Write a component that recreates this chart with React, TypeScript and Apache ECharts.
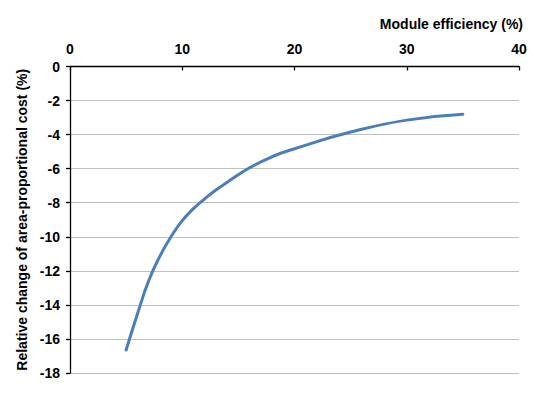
import React, { useEffect, useRef } from "react";
import * as echarts from "echarts";

const efficiency = [5, 6, 7, 8, 9, 10, 11, 12, 13, 14, 16, 18, 20, 25, 30, 35];
const costChange = [-16.65, -14.55, -12.6, -11.15, -10.0, -9.05, -8.35, -7.77, -7.25, -6.8, -5.95, -5.3, -4.83, -3.85, -3.15, -2.8];
const xTitle = "Module efficiency (%)";
const yTitle = "Relative change of area-proportional cost (%)";

export default function App() {
  const ref = useRef<HTMLDivElement>(null);
  useEffect(() => {
    if (!ref.current) return;
    const chart = echarts.init(ref.current, null, { renderer: "svg" });
    const font = "'Liberation Sans', Arial, sans-serif";
    chart.setOption({
      animation: false,
      backgroundColor: "#ffffff",
      grid: { left: 70, right: 31, top: 66.5, bottom: 20, containLabel: false },
      xAxis: {
        type: "value",
        position: "top",
        min: 0,
        max: 40,
        interval: 10,
        name: xTitle,
        nameLocation: "end",
        nameGap: 4,
        nameTextStyle: {
          align: "right",
          verticalAlign: "bottom",
          padding: [0, 0, 36, 0],
          fontFamily: font,
          fontWeight: "bold",
          fontSize: 14,
          color: "#000",
        },
        axisLine: { show: true, onZero: false, lineStyle: { color: "#000", width: 1.3 } },
        axisTick: { show: true, inside: true, length: 4, lineStyle: { color: "#000", width: 1.3 } },
        axisLabel: { margin: 11, fontFamily: font, fontWeight: "bold", fontSize: 14, color: "#000" },
        splitLine: { show: false },
      },
      yAxis: {
        type: "value",
        min: -18,
        max: 0,
        interval: 2,
        name: yTitle,
        nameLocation: "middle",
        nameRotate: 90,
        nameGap: 38,
        nameTextStyle: { fontFamily: font, fontWeight: "bold", fontSize: 14, color: "#000" },
        axisLine: { show: true, lineStyle: { color: "#000", width: 1.3 } },
        axisTick: { show: true, inside: false, length: 4, lineStyle: { color: "#000", width: 1.3 } },
        axisLabel: { margin: 10, fontFamily: font, fontWeight: "bold", fontSize: 14, color: "#000" },
        splitLine: { show: true, lineStyle: { color: "#c0c0c0", width: 1 } },
      },
      series: [
        {
          type: "line",
          data: efficiency.map((x, i) => [x, costChange[i]]),
          smooth: 0.5,
          showSymbol: false,
          symbol: "none",
          lineStyle: { color: "#4a7ebb", width: 3, cap: "round" },
        },
      ],
    });
    return () => chart.dispose();
  }, []);
  return (
    <div
      ref={ref}
      style={{ position: "absolute", left: 0, top: 0, width: 550, height: 393 }}
    />
  );
}
